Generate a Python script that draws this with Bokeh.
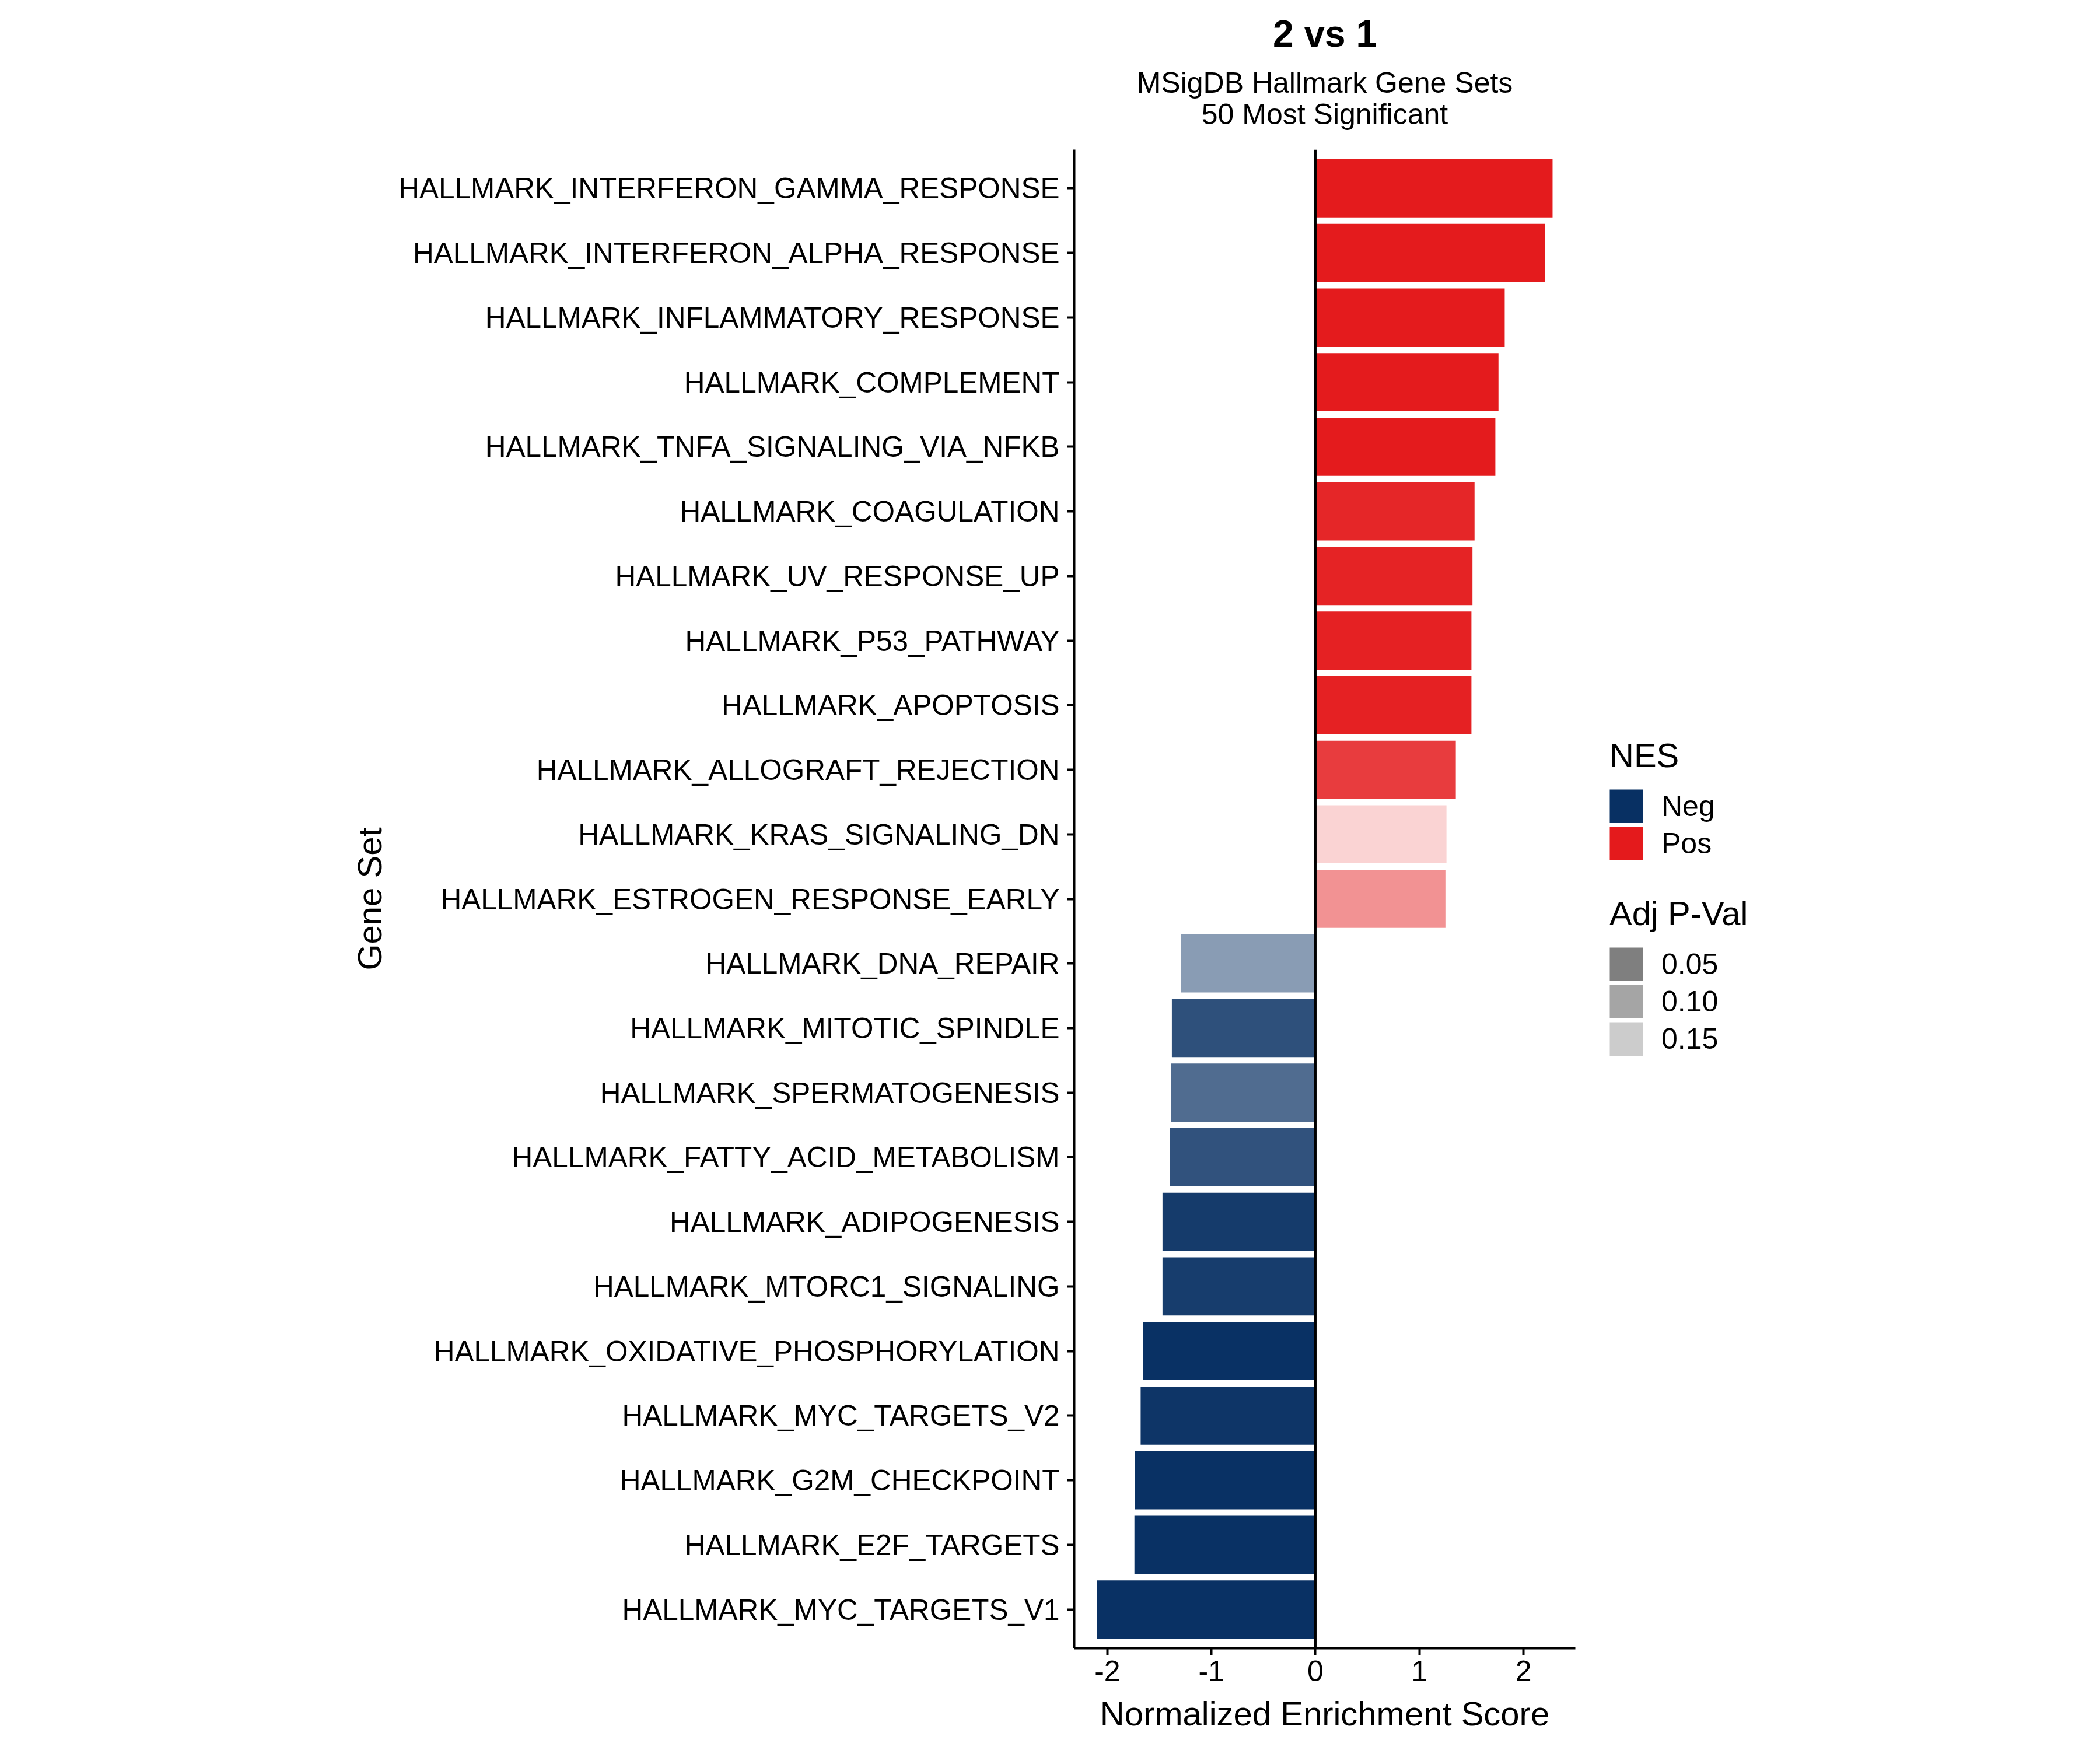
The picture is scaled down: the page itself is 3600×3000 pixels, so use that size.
from bokeh.plotting import figure
from bokeh.models import (ColumnDataSource, FactorRange, Range1d, Span, Label,
                          Legend, LegendItem, FixedTicker)
from bokeh.layouts import column, row
from bokeh.embed import file_html
from bokeh.resources import INLINE

# ---------------- data ----------------
gene_sets = [
    "HALLMARK_INTERFERON_GAMMA_RESPONSE",
    "HALLMARK_INTERFERON_ALPHA_RESPONSE",
    "HALLMARK_INFLAMMATORY_RESPONSE",
    "HALLMARK_COMPLEMENT",
    "HALLMARK_TNFA_SIGNALING_VIA_NFKB",
    "HALLMARK_COAGULATION",
    "HALLMARK_UV_RESPONSE_UP",
    "HALLMARK_P53_PATHWAY",
    "HALLMARK_APOPTOSIS",
    "HALLMARK_ALLOGRAFT_REJECTION",
    "HALLMARK_KRAS_SIGNALING_DN",
    "HALLMARK_ESTROGEN_RESPONSE_EARLY",
    "HALLMARK_DNA_REPAIR",
    "HALLMARK_MITOTIC_SPINDLE",
    "HALLMARK_SPERMATOGENESIS",
    "HALLMARK_FATTY_ACID_METABOLISM",
    "HALLMARK_ADIPOGENESIS",
    "HALLMARK_MTORC1_SIGNALING",
    "HALLMARK_OXIDATIVE_PHOSPHORYLATION",
    "HALLMARK_MYC_TARGETS_V2",
    "HALLMARK_G2M_CHECKPOINT",
    "HALLMARK_E2F_TARGETS",
    "HALLMARK_MYC_TARGETS_V1",
]
nes = [2.28, 2.21, 1.82, 1.76, 1.73, 1.53, 1.51, 1.50, 1.50, 1.35, 1.26, 1.25,
       -1.29, -1.38, -1.39, -1.40, -1.47, -1.47, -1.655, -1.68, -1.735, -1.74, -2.10]
padj = [0.0005, 0.0005, 0.0005, 0.0005, 0.0005, 0.0113, 0.0087, 0.0065, 0.0065,
        0.0326, 0.176, 0.114, 0.113, 0.0335, 0.063, 0.036, 0.011, 0.014,
        0.0005, 0.0054, 0.0005, 0.0005, 0.0005]
nes_groups = ["Neg", "Pos"]
padj_breaks = [0.05, 0.10, 0.15]
padj_break_labels = ["0.05", "0.10", "0.15"]
x_ticks = [-2, -1, 0, 1, 2]
x_tick_labels = ["-2", "-1", "0", "1", "2"]

title_text = "2 vs 1"
subtitle_lines = ["MSigDB Hallmark Gene Sets", "50 Most Significant"]

# ---------------- styles ----------------
POS_COLOR = "#E41A1C"
NEG_COLOR = "#083063"
KEY_GREY = "#595959"
FONT = "Liberation Sans"
ALPHA_SLOPE = 4.6
KEY = 58   # legend key size (px)


def alpha_of(pv):
    return max(0.1, min(1.0, 1.0 - ALPHA_SLOPE * pv))


colors = [POS_COLOR if v > 0 else NEG_COLOR for v in nes]
alphas = [alpha_of(pv) for pv in padj]
groups = ["Pos" if v > 0 else "Neg" for v in nes]

src = ColumnDataSource(dict(gene=gene_sets, nes=nes, padj=padj,
                            color=colors, alpha=alphas, grp=groups))

# ---------------- layout (page pixels) ----------------
PAGE_W, PAGE_H = 3600, 3000
HEAD_H = 240                      # header strip holding title + subtitle
MAIN_W = 2740                     # main plot width; legend strip to its right
BODY_H = PAGE_H - HEAD_H
FL, FR, FT, FB = 1841, 2700, 256, 2825   # panel edges on the page

lo, hi = min(nes), max(nes)
pad = 0.05 * (hi - lo)

yr = FactorRange(factors=list(reversed(gene_sets)), range_padding=0.1,
                 range_padding_units="absolute")
xr = Range1d(lo - pad, hi + pad)

p = figure(width=MAIN_W, height=BODY_H, x_range=xr, y_range=yr, title=None,
           output_backend="svg", toolbar_location=None,
           min_border_left=FL, min_border_right=MAIN_W - FR,
           min_border_top=FT - HEAD_H, min_border_bottom=PAGE_H - FB)
p.outline_line_color = None
p.xgrid.grid_line_color = None
p.ygrid.grid_line_color = None
p.background_fill_color = "white"
p.border_fill_color = "white"

bars = p.hbar(y="gene", left=0, right="nes", height=0.9, source=src,
              fill_color="color", fill_alpha="alpha", line_color=None)

p.add_layout(Span(location=0, dimension="height", line_color="black",
                  line_width=4))

for ax in (p.xaxis[0], p.yaxis[0]):
    ax.axis_line_width = 4
    ax.axis_line_color = "black"
    ax.major_tick_line_width = 4
    ax.major_tick_line_color = "black"
    ax.major_tick_out = 12
    ax.major_tick_in = 0
    ax.minor_tick_out = 0
    ax.minor_tick_in = 0
    ax.major_label_text_font = FONT
    ax.major_label_text_color = "black"
    ax.axis_label_text_font = FONT
    ax.axis_label_text_font_size = "58px"
    ax.axis_label_text_font_style = "normal"
    ax.axis_label_text_color = "black"

p.xaxis.ticker = FixedTicker(ticks=x_ticks)
p.xaxis.major_label_overrides = {t: s for t, s in zip(x_ticks, x_tick_labels)}
p.xaxis.major_label_text_font_size = "50px"
p.xaxis.axis_label = "Normalized Enrichment Score"
p.xaxis.major_label_standoff = 9
p.xaxis.axis_label_standoff = 20

p.yaxis.major_label_text_font_size = "49.5px"
p.yaxis.axis_label = "Gene Set"
p.yaxis.major_label_standoff = 13
p.yaxis.axis_label_standoff = 14

# ---------------- header (title + subtitle) ----------------
head = figure(width=PAGE_W, height=HEAD_H, x_range=Range1d(0, PAGE_W),
              y_range=Range1d(HEAD_H, 0), title=None,
              x_axis_type=None, y_axis_type=None,
              output_backend="svg", toolbar_location=None,
              min_border=0, min_border_left=0, min_border_right=0,
              min_border_top=0, min_border_bottom=0)
head.outline_line_color = None
head.grid.grid_line_color = None
head.border_fill_color = "white"

xc = (FL + FR) / 2
TITLE_MID = 57          # vertical middle of the title line
SUB_MID = [141, 195]    # vertical middles of the two subtitle lines
head.add_layout(Label(x=xc, y=TITLE_MID, text=title_text, text_align="center",
                      text_baseline="middle", text_font=FONT,
                      text_font_size="64px", text_font_style="bold",
                      text_color="black"))
for line, ym in zip(subtitle_lines, SUB_MID):
    head.add_layout(Label(x=xc, y=ym, text=line,
                          text_align="center", text_baseline="middle",
                          text_font=FONT, text_font_size="50px",
                          text_color="black"))

# ---------------- legend strip ----------------
leg = figure(width=PAGE_W - MAIN_W, height=BODY_H, x_range=Range1d(0, 1),
             y_range=Range1d(0, 1), title=None,
             x_axis_type=None, y_axis_type=None,
             output_backend="svg", toolbar_location=None,
             min_border=0, min_border_left=0, min_border_right=0,
             min_border_top=0, min_border_bottom=0)
leg.outline_line_color = None
leg.grid.grid_line_color = None
leg.border_fill_color = "white"

# legend key renderers: single-point lines (draw nothing in the frame);
# their legend glyph is a thick butt-capped stroke filling the whole key box
items_nes = []
for grp, col in zip(nes_groups, [NEG_COLOR, POS_COLOR]):
    r = leg.line(x=[0.5], y=[0.5], line_color=col, line_width=KEY,
                 line_cap="butt")
    items_nes.append(LegendItem(label=grp, renderers=[r]))

items_p = []
for br, lab in zip(padj_breaks, padj_break_labels):
    r = leg.line(x=[0.5], y=[0.5], line_color=KEY_GREY, line_width=KEY,
                 line_alpha=alpha_of(br), line_cap="butt")
    items_p.append(LegendItem(label=lab, renderers=[r]))


def make_legend(items, title, loc):
    return Legend(items=items, title=title, location=loc,
                  orientation="vertical",
                  glyph_width=KEY, glyph_height=KEY, label_height=KEY,
                  spacing=6, padding=0, margin=0, label_standoff=31,
                  title_standoff=25,
                  border_line_color=None, background_fill_alpha=0,
                  label_text_font=FONT, label_text_font_size="50px",
                  label_text_color="black",
                  title_text_font=FONT, title_text_font_size="58px",
                  title_text_font_style="normal", title_text_color="black")


KEY_X = 2759 - MAIN_W
leg.add_layout(make_legend(items_nes, "NES", (KEY_X, 1350)))
leg.add_layout(make_legend(items_p, "Adj P-Val", (KEY_X, 1015)))

layout = column(head, row(p, leg, spacing=0), spacing=0)
open("out.html", "w").write(file_html(layout, INLINE))
